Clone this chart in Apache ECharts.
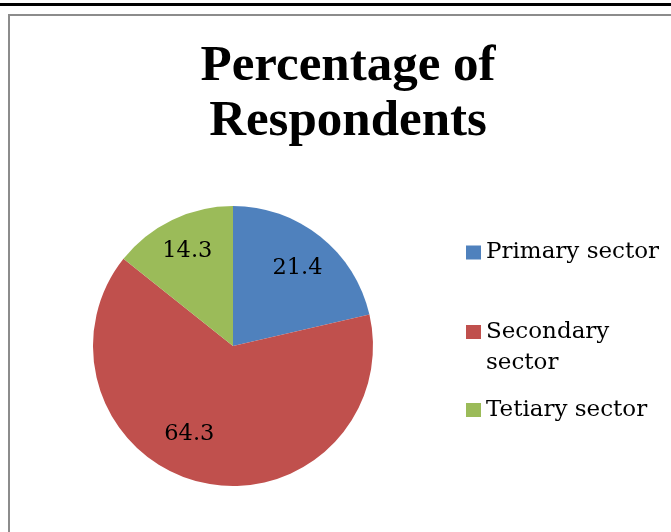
<!DOCTYPE html>
<html>
<head>
<meta charset="utf-8">
<script src="https://cdn.jsdelivr.net/npm/echarts@6/dist/echarts.min.js"></script>
<style>
html,body{margin:0;padding:0;background:#fff;}
#chart{width:671px;height:532px;}
</style>
</head>
<body>
<div id="chart"></div>
<script>
const titleText = 'Percentage of\nRespondents';
const categories = ['Primary sector', 'Secondary sector', 'Tetiary sector'];
const values = [21.4, 64.3, 14.3];
const legendLabels = ['Primary sector', '\nSecondary\nsector', 'Tetiary sector'];
const colors = ['#4F81BD', '#C0504D', '#9BBB59'];
const labelOffsets = [[19, -21], [-27.5, 17], [-14, -29]];
const legendTops = [237, 285.5, 394.5];

const chart = echarts.init(document.getElementById('chart'), null, {renderer: 'canvas'});

const legends = categories.map((c, i) => ({
  data: [c],
  orient: 'vertical',
  left: 466,
  top: legendTops[i],
  padding: 0,
  itemWidth: 15,
  itemHeight: 14,
  icon: 'rect',
  selectedMode: false,
  formatter: () => legendLabels[i],
  textStyle: {fontFamily: 'DejaVu Serif', fontSize: 23, color: '#000', lineHeight: 31}
}));

chart.setOption({
  animation: false,
  backgroundColor: '#fff',
  color: colors,
  title: {
    text: titleText,
    left: 348,
    top: 39,
    textAlign: 'center',
    padding: 0,
    textStyle: {fontFamily: 'Liberation Serif', fontWeight: 'bold', fontSize: 51, lineHeight: 55, color: '#000'}
  },
  legend: legends,
  graphic: [
    {type: 'rect', shape: {x: 0, y: 3, width: 671, height: 3}, style: {fill: '#000'}, z: 10},
    {type: 'rect', shape: {x: 9, y: 15, width: 700, height: 560}, style: {fill: 'none', stroke: '#8c8c8c', lineWidth: 2}, z: 10}
  ],
  series: [{
    type: 'pie',
    center: [233, 346],
    radius: 140,
    startAngle: 90,
    clockwise: true,
    avoidLabelOverlap: false,
    itemStyle: {borderWidth: 0},
    emphasis: {disabled: true},
    label: {
      show: true,
      position: 'inside',
      formatter: p => String(p.value),
      fontFamily: 'DejaVu Serif',
      fontSize: 22.5,
      color: '#000'
    },
    labelLine: {show: false},
    data: categories.map((c, i) => ({
      name: c,
      value: values[i],
      label: {offset: labelOffsets[i]}
    }))
  }]
});
</script>
</body>
</html>
